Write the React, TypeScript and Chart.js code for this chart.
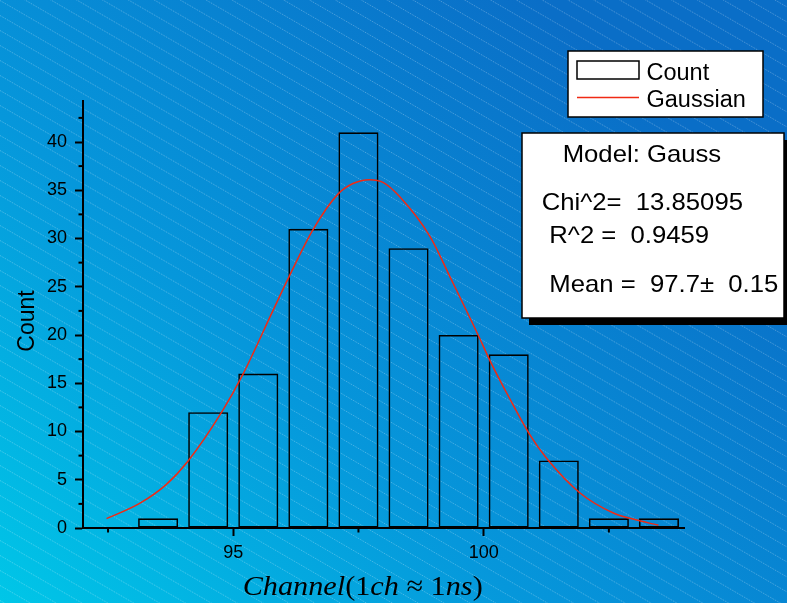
import React, { useEffect, useRef } from "react";
import { Chart, registerables } from "chart.js";
Chart.register(...registerables);

// ---- data ----
const binCenters = [93.5, 94.5, 95.5, 96.5, 97.5, 98.5, 99.5, 100.5, 101.5, 102.5, 103.5];
const counts = [1, 12, 16, 31, 41, 29, 20, 18, 7, 1, 1];
const fitX = [92.47, 93.13, 93.66, 94.09, 94.79, 95.19, 95.79, 96.11, 96.59, 97.09, 97.39, 97.72, 98.0, 98.33, 98.93, 99.33, 99.89, 100.13, 100.5, 100.93, 101.26, 101.93, 102.59, 103.0, 103.49];
const fitY = [0.97, 2.55, 4.5, 6.9, 12.2, 15.9, 22.5, 26.0, 30.9, 34.6, 35.7, 36.1, 35.8, 34.3, 30.2, 26.0, 20.0, 17.3, 13.6, 9.6, 7.2, 3.6, 1.55, 0.9, 0.28];
const xMajorTicks = [95, 100];
const xMinorTicks = [92.5, 97.5, 102.5];
const yMajorTicks = [0, 5, 10, 15, 20, 25, 30, 35, 40];
const yMinorTicks = [2.5, 7.5, 12.5, 17.5, 22.5, 27.5, 32.5, 37.5, 42.5];
const xRange = [92, 104];
const yRange = [0, 44.25];
const legendLabels = ["Count", "Gaussian"];
const modelLines = ["Model: Gauss", "Chi^2=  13.85095", "R^2 =  0.9459", "Mean =  97.7\u00b1  0.15"];
const xTitleParts: [string, boolean][] = [
  ["Channel", true], ["(", false], ["1", false], ["ch", true], [" \u2248 ", false], ["1", false], ["ns", true], [")", false],
];
const yTitle = "Count";

const SANS = "'Liberation Sans', Arial, sans-serif";
const SERIF = "'Liberation Serif', 'Times New Roman', serif";

function stretchText(ctx: CanvasRenderingContext2D, text: string, x: number, y: number, sx: number) {
  ctx.save();
  ctx.translate(x, y);
  ctx.scale(sx, 1);
  ctx.fillText(text, 0, 0);
  ctx.restore();
}

const bgPlugin = {
  id: "bgStripes",
  beforeDraw(chart: any) {
    const { ctx, width, height } = chart;
    ctx.save();
    const g = ctx.createLinearGradient(0, 620, 560, 20);
    g.addColorStop(0, "#00c8e8");
    g.addColorStop(0.45, "#0697db");
    g.addColorStop(1, "#0a6ec7");
    ctx.fillStyle = g;
    ctx.fillRect(0, 0, width, height);
    ctx.strokeStyle = "rgba(255,255,255,0.3)";
    ctx.lineWidth = 1;
    ctx.setLineDash([1, 1]);
    const slope = 0.58;
    const gap = 15;
    for (let c = -Math.ceil((width * slope) / gap) * gap; c < height + gap; c += gap) {
      ctx.beginPath();
      ctx.moveTo(0, c + 0.5);
      ctx.lineTo(width, c + width * slope + 0.5);
      ctx.stroke();
    }
    ctx.restore();
  },
};

const overlayPlugin = {
  id: "overlay",
  afterDraw(chart: any) {
    const ctx: CanvasRenderingContext2D = chart.ctx;
    const xs = chart.scales.x;
    const ys = chart.scales.y;
    const area = chart.chartArea;
    ctx.save();
    // minor ticks
    ctx.strokeStyle = "#000";
    ctx.lineWidth = 2;
    xMinorTicks.forEach((v) => {
      const px = xs.getPixelForValue(v);
      ctx.beginPath();
      ctx.moveTo(px, area.bottom);
      ctx.lineTo(px, area.bottom + 4.5);
      ctx.stroke();
    });
    yMinorTicks.forEach((v) => {
      const py = ys.getPixelForValue(v);
      ctx.beginPath();
      ctx.moveTo(area.left, py);
      ctx.lineTo(area.left - 4.5, py);
      ctx.stroke();
    });

    // y title
    ctx.fillStyle = "#000";
    ctx.font = `23px ${SANS}`;
    ctx.textAlign = "center";
    ctx.textBaseline = "alphabetic";
    ctx.save();
    ctx.translate(33.5, 321);
    ctx.rotate(-Math.PI / 2);
    ctx.fillText(yTitle, 0, 0);
    ctx.restore();

    // x title
    ctx.textAlign = "left";
    let cx = 242.7;
    const sx = 1.08;
    xTitleParts.forEach(([t, it]) => {
      ctx.font = `${it ? "italic " : ""}28px ${SERIF}`;
      stretchText(ctx, t, cx, 595, sx);
      cx += ctx.measureText(t).width * sx;
    });

    // legend box
    ctx.fillStyle = "#fff";
    ctx.fillRect(568, 51, 195, 66);
    ctx.strokeStyle = "#000";
    ctx.lineWidth = 1.5;
    ctx.strokeRect(568, 51, 195, 66);
    ctx.fillStyle = "#fff";
    ctx.fillRect(577, 61, 62, 18);
    ctx.strokeRect(577, 61, 62, 18);
    ctx.strokeStyle = chart.data.datasets[1].borderColor;
    ctx.lineWidth = 1.5;
    ctx.beginPath();
    ctx.moveTo(577, 97.5);
    ctx.lineTo(639, 97.5);
    ctx.stroke();
    ctx.fillStyle = "#000";
    ctx.font = `23.5px ${SANS}`;
    ctx.fillText(legendLabels[0], 646.5, 80);
    ctx.fillText(legendLabels[1], 646.5, 107.3);

    // model box with shadow
    ctx.fillStyle = "#000";
    ctx.fillRect(529, 140, 262, 185);
    ctx.fillStyle = "#fff";
    ctx.fillRect(522, 133, 262, 185);
    ctx.strokeStyle = "#000";
    ctx.lineWidth = 1.5;
    ctx.strokeRect(522, 133, 262, 185);
    ctx.fillStyle = "#000";
    ctx.font = `24px ${SANS}`;
    const mx = [562.7, 541.7, 549.3, 549.3];
    const my = [162.3, 210, 243.3, 291.7];
    modelLines.forEach((t, i) => stretchText(ctx, t, mx[i], my[i], 1.07));
    ctx.restore();
  },
};

export default function App() {
  const ref = useRef<HTMLCanvasElement>(null);
  useEffect(() => {
    const font = { family: SANS, size: 18 };
    const chart = new Chart(ref.current as HTMLCanvasElement, {
      type: "bar",
      data: {
        datasets: [
          {
            type: "bar",
            label: legendLabels[0],
            data: binCenters.map((x, i) => ({ x, y: counts[i] })),
            backgroundColor: "rgba(0,0,0,0)",
            borderColor: "#000",
            borderWidth: 1.6,
            borderSkipped: false,
            barPercentage: 0.8,
            categoryPercentage: 1,
            order: 2,
          } as any,
          {
            type: "line",
            label: legendLabels[1],
            data: fitX.map((x, i) => ({ x, y: fitY[i] })),
            borderColor: "#f02a14",
            borderWidth: 1.5,
            pointRadius: 0,
            cubicInterpolationMode: "monotone",
            fill: false,
            order: 1,
          } as any,
        ],
      },
      options: {
        responsive: false,
        devicePixelRatio: 1,
        animation: false,
        layout: { padding: { left: 0, top: 101, right: 103, bottom: 0 } },
        plugins: { legend: { display: false }, tooltip: { enabled: false } },
        scales: {
          x: {
            type: "linear",
            min: xRange[0],
            max: xRange[1],
            offset: false,
            afterBuildTicks: (s: any) => {
              s.ticks = xMajorTicks.map((v) => ({ value: v }));
            },
            afterFit: (s: any) => {
              s.height = 75;
            },
            grid: { display: true, offset: false, drawOnChartArea: false, drawTicks: true, tickLength: 8, tickColor: "#000", tickWidth: 2 },
            border: { display: true, color: "#000", width: 2 },
            ticks: { color: "#000", font, padding: 6, maxRotation: 0, autoSkip: false },
          },
          y: {
            type: "linear",
            min: yRange[0],
            max: yRange[1],
            afterBuildTicks: (s: any) => {
              s.ticks = yMajorTicks.map((v) => ({ value: v }));
            },
            afterFit: (s: any) => {
              s.width = 83;
            },
            grid: { display: true, offset: false, drawOnChartArea: false, drawTicks: true, tickLength: 8, tickColor: "#000", tickWidth: 2 },
            border: { display: true, color: "#000", width: 2 },
            ticks: { color: "#000", font, padding: 8, autoSkip: false },
          },
        },
      } as any,
      plugins: [bgPlugin, overlayPlugin],
    });
    return () => chart.destroy();
  }, []);
  return (
    <div style={{ position: "absolute", left: 0, top: 0, width: 787, height: 603 }}>
      <canvas ref={ref} width={787} height={603} style={{ display: "block", width: 787, height: 603 }} />
    </div>
  );
}
